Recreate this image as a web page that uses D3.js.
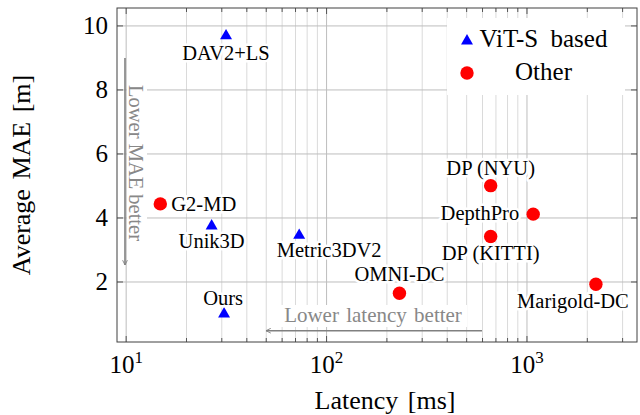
<!DOCTYPE html>
<html>
<head>
<meta charset="utf-8">
<script src="https://cdn.jsdelivr.net/npm/d3@7"></script>
</head>
<body style="margin:0">
<svg id="chart" width="640" height="415"></svg>
<script>
// Data
let methods = ["DAV2+LS", "Unik3D", "Ours", "Metric3DV2", "G2-MD", "OMNI-DC", "DP (NYU)", "DepthPro", "DP (KITTI)", "Marigold-DC"];
let latency = [31.5, 26.7, 30.8, 73, 14.8, 231, 659, 1074, 659, 2208];
let mae = [9.72, 3.78, 1.03, 3.49, 4.44, 1.65, 5.01, 4.12, 3.42, 1.93];
let group_of = ["vit", "vit", "vit", "vit", "other", "other", "other", "other", "other", "other"];
let legendLabels = ["ViT-S based", "Other"];
let xTicks = [10, 100, 1000];
let yTicks = [2, 4, 6, 8, 10];

let margin_left = 117;
let margin_top = 8;
let plot_w = 520;
let plot_h = 334;
let fontName = "'Times New Roman', 'Liberation Serif', Tinos, FreeSerif";

// label placement next to each point: [dx, dy, anchor]
let labelPlace = {
	"DAV2+LS": [0, 25, "middle"],
	"Unik3D": [0, 23, "middle"],
	"Ours": [-1, -8, "middle"],
	"Metric3DV2": [30, 23, "middle"],
	"G2-MD": [11, 7, "start"],
	"OMNI-DC": [0, -12, "middle"],
	"DP (NYU)": [0, -11, "middle"],
	"DepthPro": [-14, 6, "end"],
	"DP (KITTI)": [0, 23, "middle"],
	"Marigold-DC": [-23, 24, "middle"]
};

let svg = d3.select("#chart").style("font-family", fontName);

function addText(parent) {
	return parent.append("text").style("font-family", fontName);
}

let plot = svg.append("g")
	.attr("transform", "translate(" + margin_left + "," + margin_top + ")");

let x = d3.scaleLog().domain([9.0, 3540]).range([0, plot_w]);
let y = d3.scaleLinear().domain([0.125, 10.56]).range([plot_h, 0]);

// minor ticks on the log axis
let minorTicks = [];
for (let p = 1; p <= 1000; p *= 10) {
	for (let k = 2; k <= 9; k++) {
		let v = k * p;
		if (v > x.domain()[0] && v < x.domain()[1]) minorTicks.push(v);
	}
}

// Grid
plot.selectAll(".minorgrid").data(minorTicks).enter().append("line")
	.attr("x1", d => x(d)).attr("x2", d => x(d))
	.attr("y1", 0).attr("y2", plot_h)
	.attr("stroke", "#dadada").attr("stroke-width", 1);

plot.selectAll(".xgrid").data(xTicks).enter().append("line")
	.attr("x1", d => x(d)).attr("x2", d => x(d))
	.attr("y1", 0).attr("y2", plot_h)
	.attr("stroke", "#bdbdbd").attr("stroke-width", 1);

plot.selectAll(".ygrid").data(yTicks).enter().append("line")
	.attr("x1", 0).attr("x2", plot_w)
	.attr("y1", d => y(d)).attr("y2", d => y(d))
	.attr("stroke", "#bdbdbd").attr("stroke-width", 1);

// Ticks, inside on all four sides
let tickColor = "#555";
[0, plot_h].forEach(function(yy) {
	let dir = yy === 0 ? 1 : -1;
	plot.selectAll(null).data(xTicks).enter().append("line")
		.attr("x1", d => x(d)).attr("x2", d => x(d))
		.attr("y1", yy).attr("y2", yy + dir * 6)
		.attr("stroke", tickColor);
	plot.selectAll(null).data(minorTicks).enter().append("line")
		.attr("x1", d => x(d)).attr("x2", d => x(d))
		.attr("y1", yy).attr("y2", yy + dir * 4)
		.attr("stroke", tickColor);
});
[0, plot_w].forEach(function(xx) {
	let dir = xx === 0 ? 1 : -1;
	plot.selectAll(null).data(yTicks).enter().append("line")
		.attr("x1", xx).attr("x2", xx + dir * 6)
		.attr("y1", d => y(d)).attr("y2", d => y(d))
		.attr("stroke", tickColor);
});

// Arrow marker
svg.append("defs").append("marker")
	.attr("id", "arrow")
	.attr("viewBox", "0 0 10 10")
	.attr("refX", 9).attr("refY", 5)
	.attr("markerWidth", 6).attr("markerHeight", 6)
	.attr("markerUnits", "userSpaceOnUse")
	.attr("orient", "auto")
	.append("path")
	.attr("d", "M1,1 L9,5 L1,9")
	.attr("fill", "none")
	.attr("stroke", "#808080")
	.attr("stroke-width", 1.5);

// Lower MAE better
plot.append("line")
	.attr("x1", 8).attr("x2", 8)
	.attr("y1", 50).attr("y2", 257)
	.attr("stroke", "#808080").attr("stroke-width", 1.6)
	.attr("marker-end", "url(#arrow)");
plot.append("rect")
	.attr("x", 10).attr("y", 68)
	.attr("width", 20).attr("height", 176)
	.attr("fill", "#fff");
addText(plot)
	.attr("transform", "translate(12,155) rotate(90)")
	.attr("text-anchor", "middle")
	.attr("fill", "#888")
	.style("font-size", "20.5px")
	.text("Lower MAE better");

// Lower latency better
plot.append("line")
	.attr("x1", 365).attr("x2", 149)
	.attr("y1", 322.7).attr("y2", 322.7)
	.attr("stroke", "#808080").attr("stroke-width", 1.6)
	.attr("marker-end", "url(#arrow)");
plot.append("rect")
	.attr("x", 163).attr("y", 297)
	.attr("width", 187).attr("height", 22)
	.attr("fill", "#fff");
addText(plot)
	.attr("x", 256).attr("y", 314)
	.attr("text-anchor", "middle")
	.attr("fill", "#888")
	.style("font-size", "21px")
	.style("word-spacing", "2px")
	.text("Lower latency better");

// Frame
plot.append("rect")
	.attr("x", 0).attr("y", 0)
	.attr("width", plot_w).attr("height", plot_h)
	.attr("fill", "none")
	.attr("stroke", "#404040").attr("stroke-width", 1);

// Points
let colorOf = { vit: "#0000ff", other: "#ff0000" };
let triangle = d3.symbol().type(d3.symbolTriangle).size(62);
let points = d3.range(methods.length);

plot.selectAll(".dot").data(points.filter(i => group_of[i] === "other")).enter().append("circle")
	.attr("cx", i => x(latency[i]))
	.attr("cy", i => y(mae[i]))
	.attr("r", 6.7)
	.attr("fill", colorOf.other);

plot.selectAll(".tri").data(points.filter(i => group_of[i] === "vit")).enter().append("path")
	.attr("d", triangle)
	.attr("transform", i => "translate(" + x(latency[i]) + "," + (y(mae[i]) + 1) + ")")
	.attr("fill", colorOf.vit);

// Point labels, white halo hides the grid behind them
points.forEach(function(i) {
	let p = labelPlace[methods[i]];
	addText(plot)
		.attr("x", x(latency[i]) + p[0])
		.attr("y", y(mae[i]) + p[1])
		.attr("text-anchor", p[2])
		.style("font-size", "20.5px")
		.style("paint-order", "stroke")
		.attr("stroke", "#fff")
		.attr("stroke-width", 5)
		.attr("stroke-linejoin", "round")
		.attr("fill", "#000")
		.text(methods[i]);
});

// Tick labels
xTicks.forEach(function(d) {
	let t = addText(plot)
		.attr("x", x(d))
		.attr("y", plot_h + 31)
		.attr("text-anchor", "middle")
		.style("font-size", "25px");
	t.append("tspan").text("10");
	t.append("tspan")
		.attr("dy", -10)
		.style("font-size", "17px")
		.text(Math.round(Math.log10(d)));
});

yTicks.forEach(function(d) {
	addText(plot)
		.attr("x", -9)
		.attr("y", y(d) + 8)
		.attr("text-anchor", "end")
		.style("font-size", "25px")
		.text(d);
});

// Axis titles
addText(svg)
	.attr("x", margin_left + plot_w / 2 + 8)
	.attr("y", 409)
	.attr("text-anchor", "middle")
	.style("font-size", "26px")
	.style("word-spacing", "3px")
	.text("Latency [ms]");

addText(svg)
	.attr("transform", "translate(30," + (margin_top + plot_h / 2) + ") rotate(-90)")
	.attr("text-anchor", "middle")
	.style("font-size", "26px")
	.style("word-spacing", "3px")
	.text("Average MAE [m]");

// Legend
let legend = svg.append("g");
legend.append("rect")
	.attr("x", 447).attr("y", 18)
	.attr("width", 178).attr("height", 77)
	.attr("fill", "#fff");
legend.append("path")
	.attr("d", triangle)
	.attr("transform", "translate(467,41)")
	.attr("fill", colorOf.vit);
legend.append("circle")
	.attr("cx", 467).attr("cy", 73)
	.attr("r", 6.7)
	.attr("fill", colorOf.other);
legendLabels.forEach(function(d, i) {
	addText(legend)
		.attr("x", 543.5)
		.attr("y", 47 + i * 33)
		.attr("text-anchor", "middle")
		.style("font-size", "25px")
		.style("word-spacing", i === 0 ? "6px" : "0px")
		.text(d);
});
</script>
</body>
</html>
